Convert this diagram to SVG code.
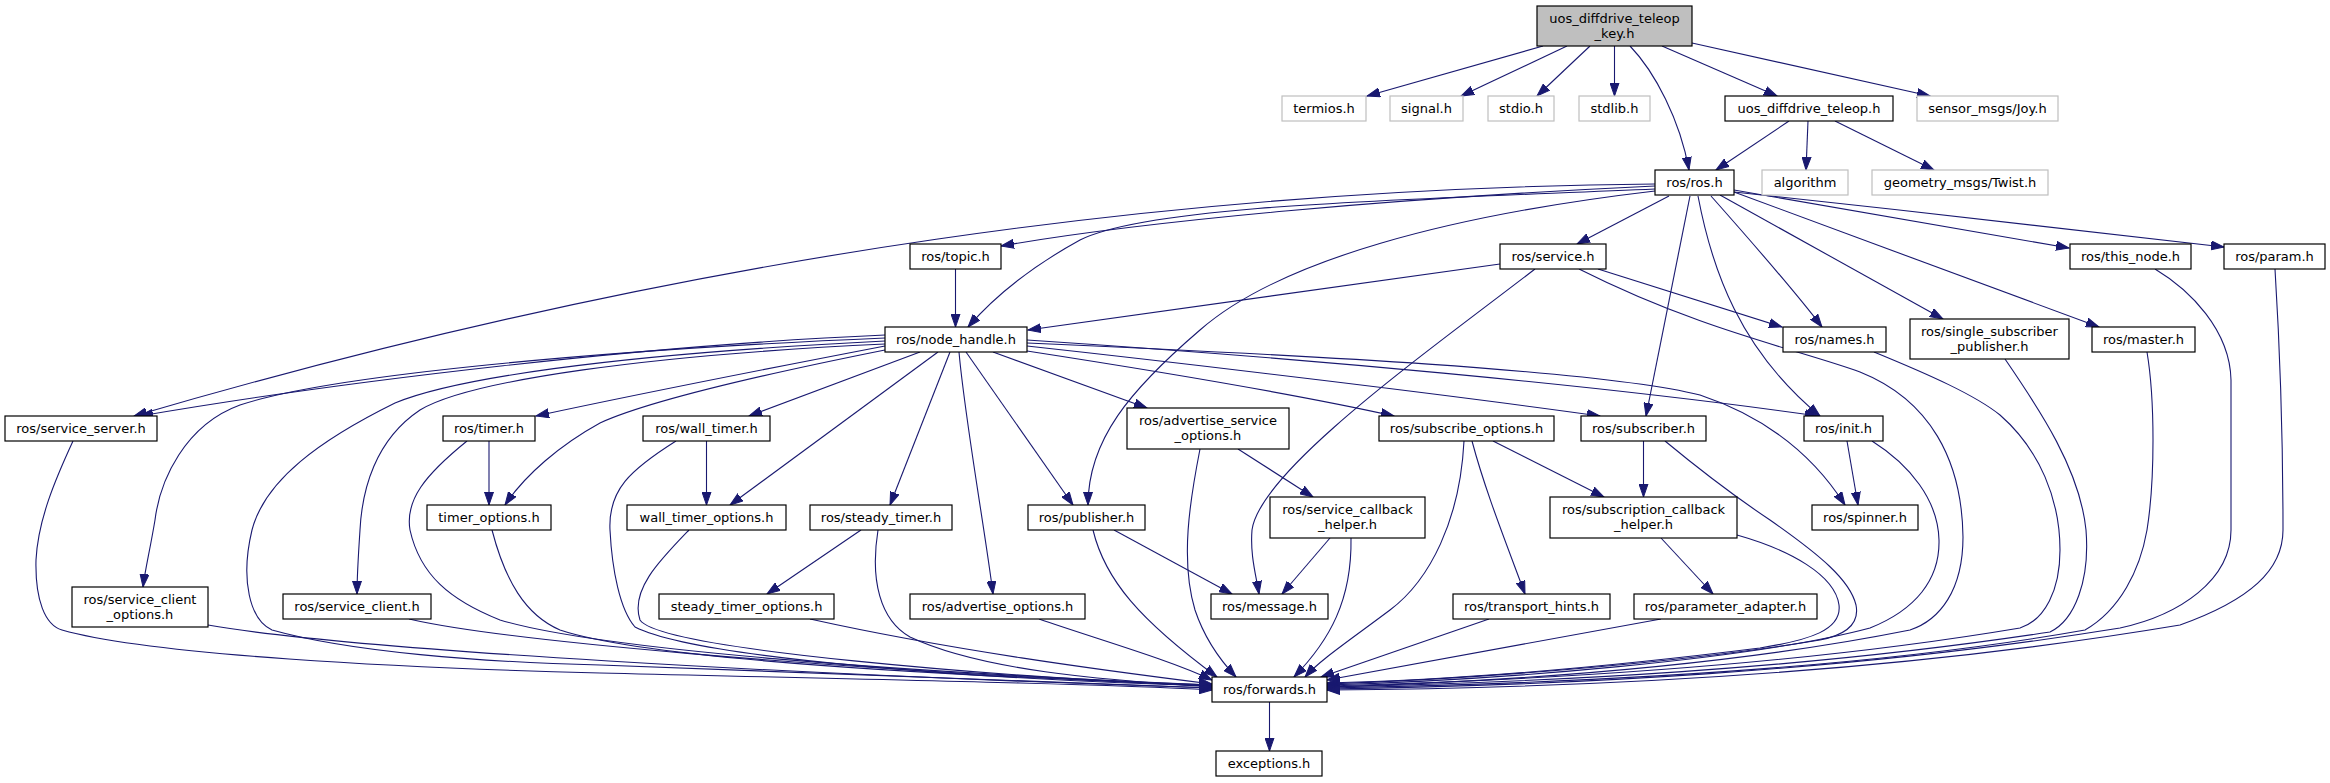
<svg xmlns="http://www.w3.org/2000/svg" width="2330" height="783" viewBox="0 0 2330 783">
<style>
rect{fill:#fff;stroke:#000;stroke-width:1.2}
.g rect{stroke:#bfbfbf}
.r rect{fill:#bfbfbf;stroke:#000}
text{font-family:"DejaVu Sans","Liberation Sans",sans-serif;font-size:13px;text-anchor:middle;fill:#000}
#edges path{fill:none;stroke:#191970;stroke-width:1.1;marker-end:url(#a)}
</style>
<defs>
<marker id="a" markerUnits="userSpaceOnUse" viewBox="0 0 14 10" refX="13" refY="5" markerWidth="14" markerHeight="10" orient="auto">
<path d="M0,0.5 L13,5 L0,9.5 z" fill="#191970" stroke="#191970"/>
</marker>
</defs>
<rect x="0" y="0" width="2330" height="783" style="fill:#fff;stroke:none"/>
<g id="edges">
<path d="M1543,46 L1367,96"/>
<path d="M1567,46 L1461,96"/>
<path d="M1590,46 L1537,96"/>
<path d="M1614.5,46 L1614.5,96"/>
<path d="M1630,46 C1655,72 1680,120 1689,170"/>
<path d="M1662,46 L1777,96"/>
<path d="M1692,43 L1930,96"/>
<path d="M1789,121 L1716,170"/>
<path d="M1808,121 L1806,170"/>
<path d="M1835,121 L1934,170"/>
<path d="M1655,184 C1200,188 700,250 134,416"/>
<path d="M1655,186 C1400,198 1150,220 1001,246"/>
<path d="M1655,189 C1400,200 1150,205 1080,240 C1040,262 1000,290 968,327"/>
<path d="M1655,191 C1450,215 1280,260 1200,330 C1130,390 1088,440 1088,505"/>
<path d="M1669,196 L1577,244"/>
<path d="M1711,196 C1750,240 1790,285 1822,327"/>
<path d="M1690,196 L1646,416"/>
<path d="M1698,196 C1712,270 1740,350 1820,416"/>
<path d="M1720,195 L1943,319"/>
<path d="M1734,192 L2099,327"/>
<path d="M1734,190 L2069,248"/>
<path d="M1734,192 C1900,210 2100,232 2224,247"/>
<path d="M955.5,269 L955.5,327"/>
<path d="M1500,264 L1028,330"/>
<path d="M1535,269 C1430,350 1260,470 1252,530 C1250,555 1256,575 1259,594"/>
<path d="M1598,269 L1782,327"/>
<path d="M1579,269 C1700,330 1800,350 1860,372 C1930,400 1962,460 1963,537 C1963,590 1940,620 1910,630 C1750,662 1550,680 1327,687"/>
<path d="M885,335 C650,345 350,380 140,416"/>
<path d="M885,338 C600,350 330,375 240,405 C185,425 160,480 155,520 C150,550 145,570 143,587"/>
<path d="M885,341 C600,355 450,380 395,403 C320,440 265,480 252,530 C240,580 250,620 272,630 C350,652 480,662 600,665 C900,675 1100,682 1212,688"/>
<path d="M885,344 C650,355 470,380 420,410 C375,440 362,490 360,530 C358,560 357,580 357,594"/>
<path d="M885,346 C750,372 620,398 536,416"/>
<path d="M885,350 C760,375 650,400 600,423 C560,445 525,475 505,505"/>
<path d="M920,352 L749,416"/>
<path d="M938,352 L730,505"/>
<path d="M950,352 L890,505"/>
<path d="M959,352 C965,420 985,530 993,594"/>
<path d="M966,352 L1073,505"/>
<path d="M993,352 L1147,408"/>
<path d="M1027,351 C1150,370 1300,395 1394,416"/>
<path d="M1027,346 C1200,365 1450,395 1600,416"/>
<path d="M1027,340 C1300,358 1600,385 1818,416"/>
<path d="M1027,343 C1300,355 1600,370 1700,395 C1760,415 1810,450 1845,505"/>
<path d="M73,441 C55,480 38,520 36,560 C35,600 45,625 62,630 C150,655 400,668 600,673 C900,680 1100,684 1212,690"/>
<path d="M489,441 L489,505"/>
<path d="M467,441 C425,475 405,500 410,530 C420,575 450,600 500,620 C600,650 900,672 1212,685"/>
<path d="M706.5,441 L706.5,505"/>
<path d="M676,441 C630,470 608,490 610,530 C612,570 620,610 635,627 C700,660 1000,680 1212,686"/>
<path d="M492,530 C505,580 525,615 560,630 C650,660 950,676 1212,685"/>
<path d="M689,530 C660,560 630,590 640,620 C660,650 1000,677 1212,686"/>
<path d="M861,530 L767,594"/>
<path d="M878,530 C870,580 880,620 910,637 C980,670 1100,680 1212,687"/>
<path d="M208,625 C350,650 800,675 1212,688"/>
<path d="M409,619 C500,640 800,668 1212,686"/>
<path d="M810,619 C950,650 1100,670 1212,684"/>
<path d="M1039,619 C1100,640 1170,660 1212,680"/>
<path d="M1093,530 C1105,580 1140,620 1217,677"/>
<path d="M1114,530 L1232,594"/>
<path d="M1200,449 C1190,500 1180,560 1195,610 C1205,640 1220,660 1236,677"/>
<path d="M1238,449 L1313,497"/>
<path d="M1330,538 L1282,594"/>
<path d="M1351,538 C1352,600 1330,640 1294,677"/>
<path d="M1464,441 C1460,520 1430,580 1390,610 C1350,640 1320,660 1305,677"/>
<path d="M1472,441 C1485,490 1505,540 1525,594"/>
<path d="M1493,441 L1604,497"/>
<path d="M1643.5,441 L1643.5,497"/>
<path d="M1665,441 C1700,470 1740,500 1770,520 C1820,555 1850,580 1856,605 C1860,625 1845,635 1820,640 C1700,660 1500,678 1327,684"/>
<path d="M1489,619 L1321,677"/>
<path d="M1661,619 L1327,680"/>
<path d="M1661,538 L1713,594"/>
<path d="M1737,535 C1790,550 1835,575 1839,605 C1842,630 1810,640 1760,648 C1600,668 1450,680 1327,683"/>
<path d="M1847,441 L1858,505"/>
<path d="M1872,441 C1910,465 1938,500 1939,540 C1940,580 1915,610 1870,628 C1750,660 1500,680 1327,685"/>
<path d="M1874,352 C1930,375 1975,395 2000,415 C2040,450 2060,500 2060,550 C2060,590 2045,620 2020,628 C1800,665 1550,680 1327,686"/>
<path d="M2005,359 C2040,410 2080,470 2086,530 C2090,580 2075,620 2050,632 C1800,670 1550,682 1327,687"/>
<path d="M2147,352 C2155,400 2155,480 2147,530 C2140,570 2120,610 2085,630 C1850,672 1550,684 1327,688"/>
<path d="M2155,269 C2190,290 2230,330 2231,380 L2231,530 C2231,580 2180,615 2120,628 C1850,672 1550,686 1327,689"/>
<path d="M2275,269 C2280,350 2283,450 2283,530 C2283,570 2250,600 2180,625 C1900,672 1600,688 1327,690"/>
<path d="M1269.5,702 L1269.5,751"/>
</g>
<g id="n_root" class="r"><rect x="1537" y="6" width="155" height="40"/><text x="1614.5" y="22.5">uos_diffdrive_teleop</text><text x="1614.5" y="37.5">_key.h</text></g>
<g id="n_termios" class="g"><rect x="1282" y="96" width="84" height="25"/><text x="1324" y="113">termios.h</text></g>
<g id="n_signal" class="g"><rect x="1390" y="96" width="73" height="25"/><text x="1426.5" y="113">signal.h</text></g>
<g id="n_stdio" class="g"><rect x="1488" y="96" width="66" height="25"/><text x="1521" y="113">stdio.h</text></g>
<g id="n_stdlib" class="g"><rect x="1579" y="96" width="71" height="25"/><text x="1614.5" y="113">stdlib.h</text></g>
<g id="n_uos_teleop"><rect x="1725" y="96" width="168" height="25"/><text x="1809" y="113">uos_diffdrive_teleop.h</text></g>
<g id="n_joy" class="g"><rect x="1917" y="96" width="141" height="25"/><text x="1987.5" y="113">sensor_msgs/Joy.h</text></g>
<g id="n_ros"><rect x="1655" y="170" width="79" height="25"/><text x="1694.5" y="187">ros/ros.h</text></g>
<g id="n_algorithm" class="g"><rect x="1762" y="170" width="86" height="25"/><text x="1805" y="187">algorithm</text></g>
<g id="n_twist" class="g"><rect x="1872" y="170" width="176" height="25"/><text x="1960" y="187">geometry_msgs/Twist.h</text></g>
<g id="n_topic"><rect x="910" y="244" width="91" height="25"/><text x="955.5" y="261">ros/topic.h</text></g>
<g id="n_service"><rect x="1500" y="244" width="106" height="25"/><text x="1553" y="261">ros/service.h</text></g>
<g id="n_this_node"><rect x="2070" y="244" width="121" height="25"/><text x="2130.5" y="261">ros/this_node.h</text></g>
<g id="n_param"><rect x="2224" y="244" width="101" height="25"/><text x="2274.5" y="261">ros/param.h</text></g>
<g id="n_node_handle"><rect x="885" y="327" width="142" height="25"/><text x="956" y="344">ros/node_handle.h</text></g>
<g id="n_names"><rect x="1783" y="327" width="103" height="25"/><text x="1834.5" y="344">ros/names.h</text></g>
<g id="n_ssp"><rect x="1910" y="319" width="159" height="40"/><text x="1989.5" y="335.5">ros/single_subscriber</text><text x="1989.5" y="350.5">_publisher.h</text></g>
<g id="n_master"><rect x="2092" y="327" width="103" height="25"/><text x="2143.5" y="344">ros/master.h</text></g>
<g id="n_service_server"><rect x="5" y="416" width="152" height="25"/><text x="81" y="433">ros/service_server.h</text></g>
<g id="n_timer"><rect x="443" y="416" width="92" height="25"/><text x="489" y="433">ros/timer.h</text></g>
<g id="n_wall_timer"><rect x="643" y="416" width="127" height="25"/><text x="706.5" y="433">ros/wall_timer.h</text></g>
<g id="n_aso"><rect x="1127" y="408" width="162" height="41"/><text x="1208" y="424.5">ros/advertise_service</text><text x="1208" y="439.5">_options.h</text></g>
<g id="n_subscribe_options"><rect x="1379" y="416" width="175" height="25"/><text x="1466.5" y="433">ros/subscribe_options.h</text></g>
<g id="n_subscriber"><rect x="1581" y="416" width="125" height="25"/><text x="1643.5" y="433">ros/subscriber.h</text></g>
<g id="n_init"><rect x="1804" y="416" width="79" height="25"/><text x="1843.5" y="433">ros/init.h</text></g>
<g id="n_timer_options"><rect x="427" y="505" width="124" height="25"/><text x="489" y="522">timer_options.h</text></g>
<g id="n_wall_timer_options"><rect x="627" y="505" width="159" height="25"/><text x="706.5" y="522">wall_timer_options.h</text></g>
<g id="n_steady_timer"><rect x="810" y="505" width="142" height="25"/><text x="881" y="522">ros/steady_timer.h</text></g>
<g id="n_publisher"><rect x="1028" y="505" width="117" height="25"/><text x="1086.5" y="522">ros/publisher.h</text></g>
<g id="n_sch"><rect x="1270" y="497" width="155" height="41"/><text x="1347.5" y="513.5">ros/service_callback</text><text x="1347.5" y="528.5">_helper.h</text></g>
<g id="n_subcb"><rect x="1550" y="497" width="187" height="41"/><text x="1643.5" y="513.5">ros/subscription_callback</text><text x="1643.5" y="528.5">_helper.h</text></g>
<g id="n_spinner"><rect x="1812" y="505" width="106" height="25"/><text x="1865" y="522">ros/spinner.h</text></g>
<g id="n_sco"><rect x="72" y="587" width="136" height="40"/><text x="140" y="603.5">ros/service_client</text><text x="140" y="618.5">_options.h</text></g>
<g id="n_service_client"><rect x="283" y="594" width="148" height="25"/><text x="357" y="611">ros/service_client.h</text></g>
<g id="n_sto"><rect x="659" y="594" width="175" height="25"/><text x="746.5" y="611">steady_timer_options.h</text></g>
<g id="n_advertise_options"><rect x="910" y="594" width="175" height="25"/><text x="997.5" y="611">ros/advertise_options.h</text></g>
<g id="n_message"><rect x="1211" y="594" width="117" height="25"/><text x="1269.5" y="611">ros/message.h</text></g>
<g id="n_transport_hints"><rect x="1453" y="594" width="157" height="25"/><text x="1531.5" y="611">ros/transport_hints.h</text></g>
<g id="n_parameter_adapter"><rect x="1634" y="594" width="183" height="25"/><text x="1725.5" y="611">ros/parameter_adapter.h</text></g>
<g id="n_forwards"><rect x="1212" y="677" width="115" height="25"/><text x="1269.5" y="694">ros/forwards.h</text></g>
<g id="n_exceptions"><rect x="1216" y="751" width="106" height="25"/><text x="1269" y="768">exceptions.h</text></g>
</svg>
